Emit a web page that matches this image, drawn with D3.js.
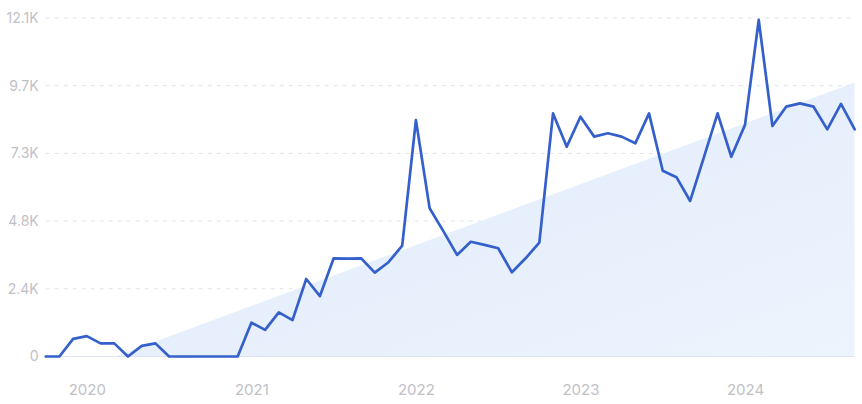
<!DOCTYPE html>
<html>
<head>
<meta charset="utf-8">
<script src="https://cdn.jsdelivr.net/npm/d3@7"></script>
<style>
  html, body { margin: 0; padding: 0; background: #ffffff; }
  svg { display: block; font-family: Inter, "Noto Sans", sans-serif; }
</style>
</head>
<body>
<svg id="chart" width="862" height="404"></svg>
<script>
// ---- data ----
const startMonth = "2019-10";
const endMonth = "2024-09";
const values = [
  0, 0, 630, 730, 470, 470, 0, 380, 470, 0,
  0, 0, 0, 0, 0, 1210, 950, 1580, 1300, 2770,
  2160, 3510, 3500, 3510, 3000, 3370, 3960, 8450, 5300, 4480,
  3630, 4100, 3990, 3870, 3010, 3510, 4070, 8690, 7500, 8570,
  7860, 7980, 7860, 7620, 8690, 6640, 6410, 5560, 7120, 8690,
  7140, 8280, 12030, 8240, 8930, 9050, 8930, 8120, 9030, 8120
];
const trendEnds = [-916, 9790];           // trend value at first and last month
const yTicks = [0, 2420, 4840, 7260, 9680, 12100];
const yTickLabels = ["0", "2.4K", "4.8K", "7.3K", "9.7K", "12.1K"];
const xTickMonths = ["2020-01", "2021-01", "2022-01", "2023-01", "2024-01"];
const xTickLabels = ["2020", "2021", "2022", "2023", "2024"];

// ---- layout ----
const fmt = d3.timeFormat("%Y-%m");
const parse = d3.timeParse("%Y-%m");
const months = d3.timeMonth.range(parse(startMonth), d3.timeMonth.offset(parse(endMonth), 1)).map(fmt);
const data = months.map((m, i) => ({ m, v: values[i] }));

const svg = d3.select("#chart");
const pLeft = 45.7, pRight = 854.7, pTop = 18, pBottom = 356.5;

const x = d3.scalePoint().domain(months).range([pLeft, pRight]);
const y = d3.scaleLinear().domain([0, 12100]).range([pBottom, pTop]);

const defs = svg.append("defs");
const grad = defs.append("linearGradient").attr("id", "fillGrad")
  .attr("x1", "0").attr("y1", "0").attr("x2", "1").attr("y2", "1");
grad.append("stop").attr("offset", "0%").attr("stop-color", "#dfeafb");
grad.append("stop").attr("offset", "100%").attr("stop-color", "#eef4fd");
defs.append("clipPath").attr("id", "plotClip").append("rect")
  .attr("x", pLeft).attr("y", 0).attr("width", pRight - pLeft).attr("height", pBottom);

// gridlines
svg.append("g").selectAll("line").data(yTicks.slice(1)).join("line")
  .attr("x1", pLeft).attr("x2", pRight + 1)
  .attr("y1", d => y(d)).attr("y2", d => y(d))
  .attr("stroke", "#dde3ea").attr("stroke-width", 1)
  .attr("stroke-dasharray", "4,5");

// trend area
const trendData = [
  { m: months[0], v: trendEnds[0] },
  { m: months[months.length - 1], v: trendEnds[1] }
];
svg.append("path").datum(trendData)
  .attr("clip-path", "url(#plotClip)")
  .attr("fill", "url(#fillGrad)")
  .attr("d", d3.area().x(d => x(d.m)).y0(y(0)).y1(d => y(d.v)));

// baseline
svg.append("line")
  .attr("x1", pLeft).attr("x2", pRight)
  .attr("y1", y(0)).attr("y2", y(0))
  .attr("stroke", "#dde4f0").attr("stroke-width", 1);

// y axis labels
const yAxis = d3.axisLeft(y).tickValues(yTicks)
  .tickFormat((d, i) => yTickLabels[i]).tickSize(0).tickPadding(7);
const gy = svg.append("g").attr("transform", `translate(${pLeft},0)`).call(yAxis);
gy.select(".domain").remove();
gy.selectAll("text").attr("fill", "#bfc1c6").attr("font-size", 14)
  .style("font-family", "Inter, 'Noto Sans', sans-serif");

// x axis labels
const xAxis = d3.axisBottom(x).tickValues(xTickMonths)
  .tickFormat((d, i) => xTickLabels[i]).tickSize(0).tickPadding(28);
const gx = svg.append("g").attr("transform", `translate(0,${pBottom})`).call(xAxis);
gx.select(".domain").remove();
gx.selectAll("text").attr("fill", "#bfc1c6").attr("font-size", 15)
  .style("font-family", "Inter, 'Noto Sans', sans-serif");

// line
svg.append("path").datum(data)
  .attr("fill", "none")
  .attr("stroke", "#3560cc")
  .attr("stroke-width", 2.7)
  .attr("stroke-linejoin", "round")
  .attr("stroke-linecap", "round")
  .attr("d", d3.line().x(d => x(d.m)).y(d => y(d.v)));
</script>
</body>
</html>
